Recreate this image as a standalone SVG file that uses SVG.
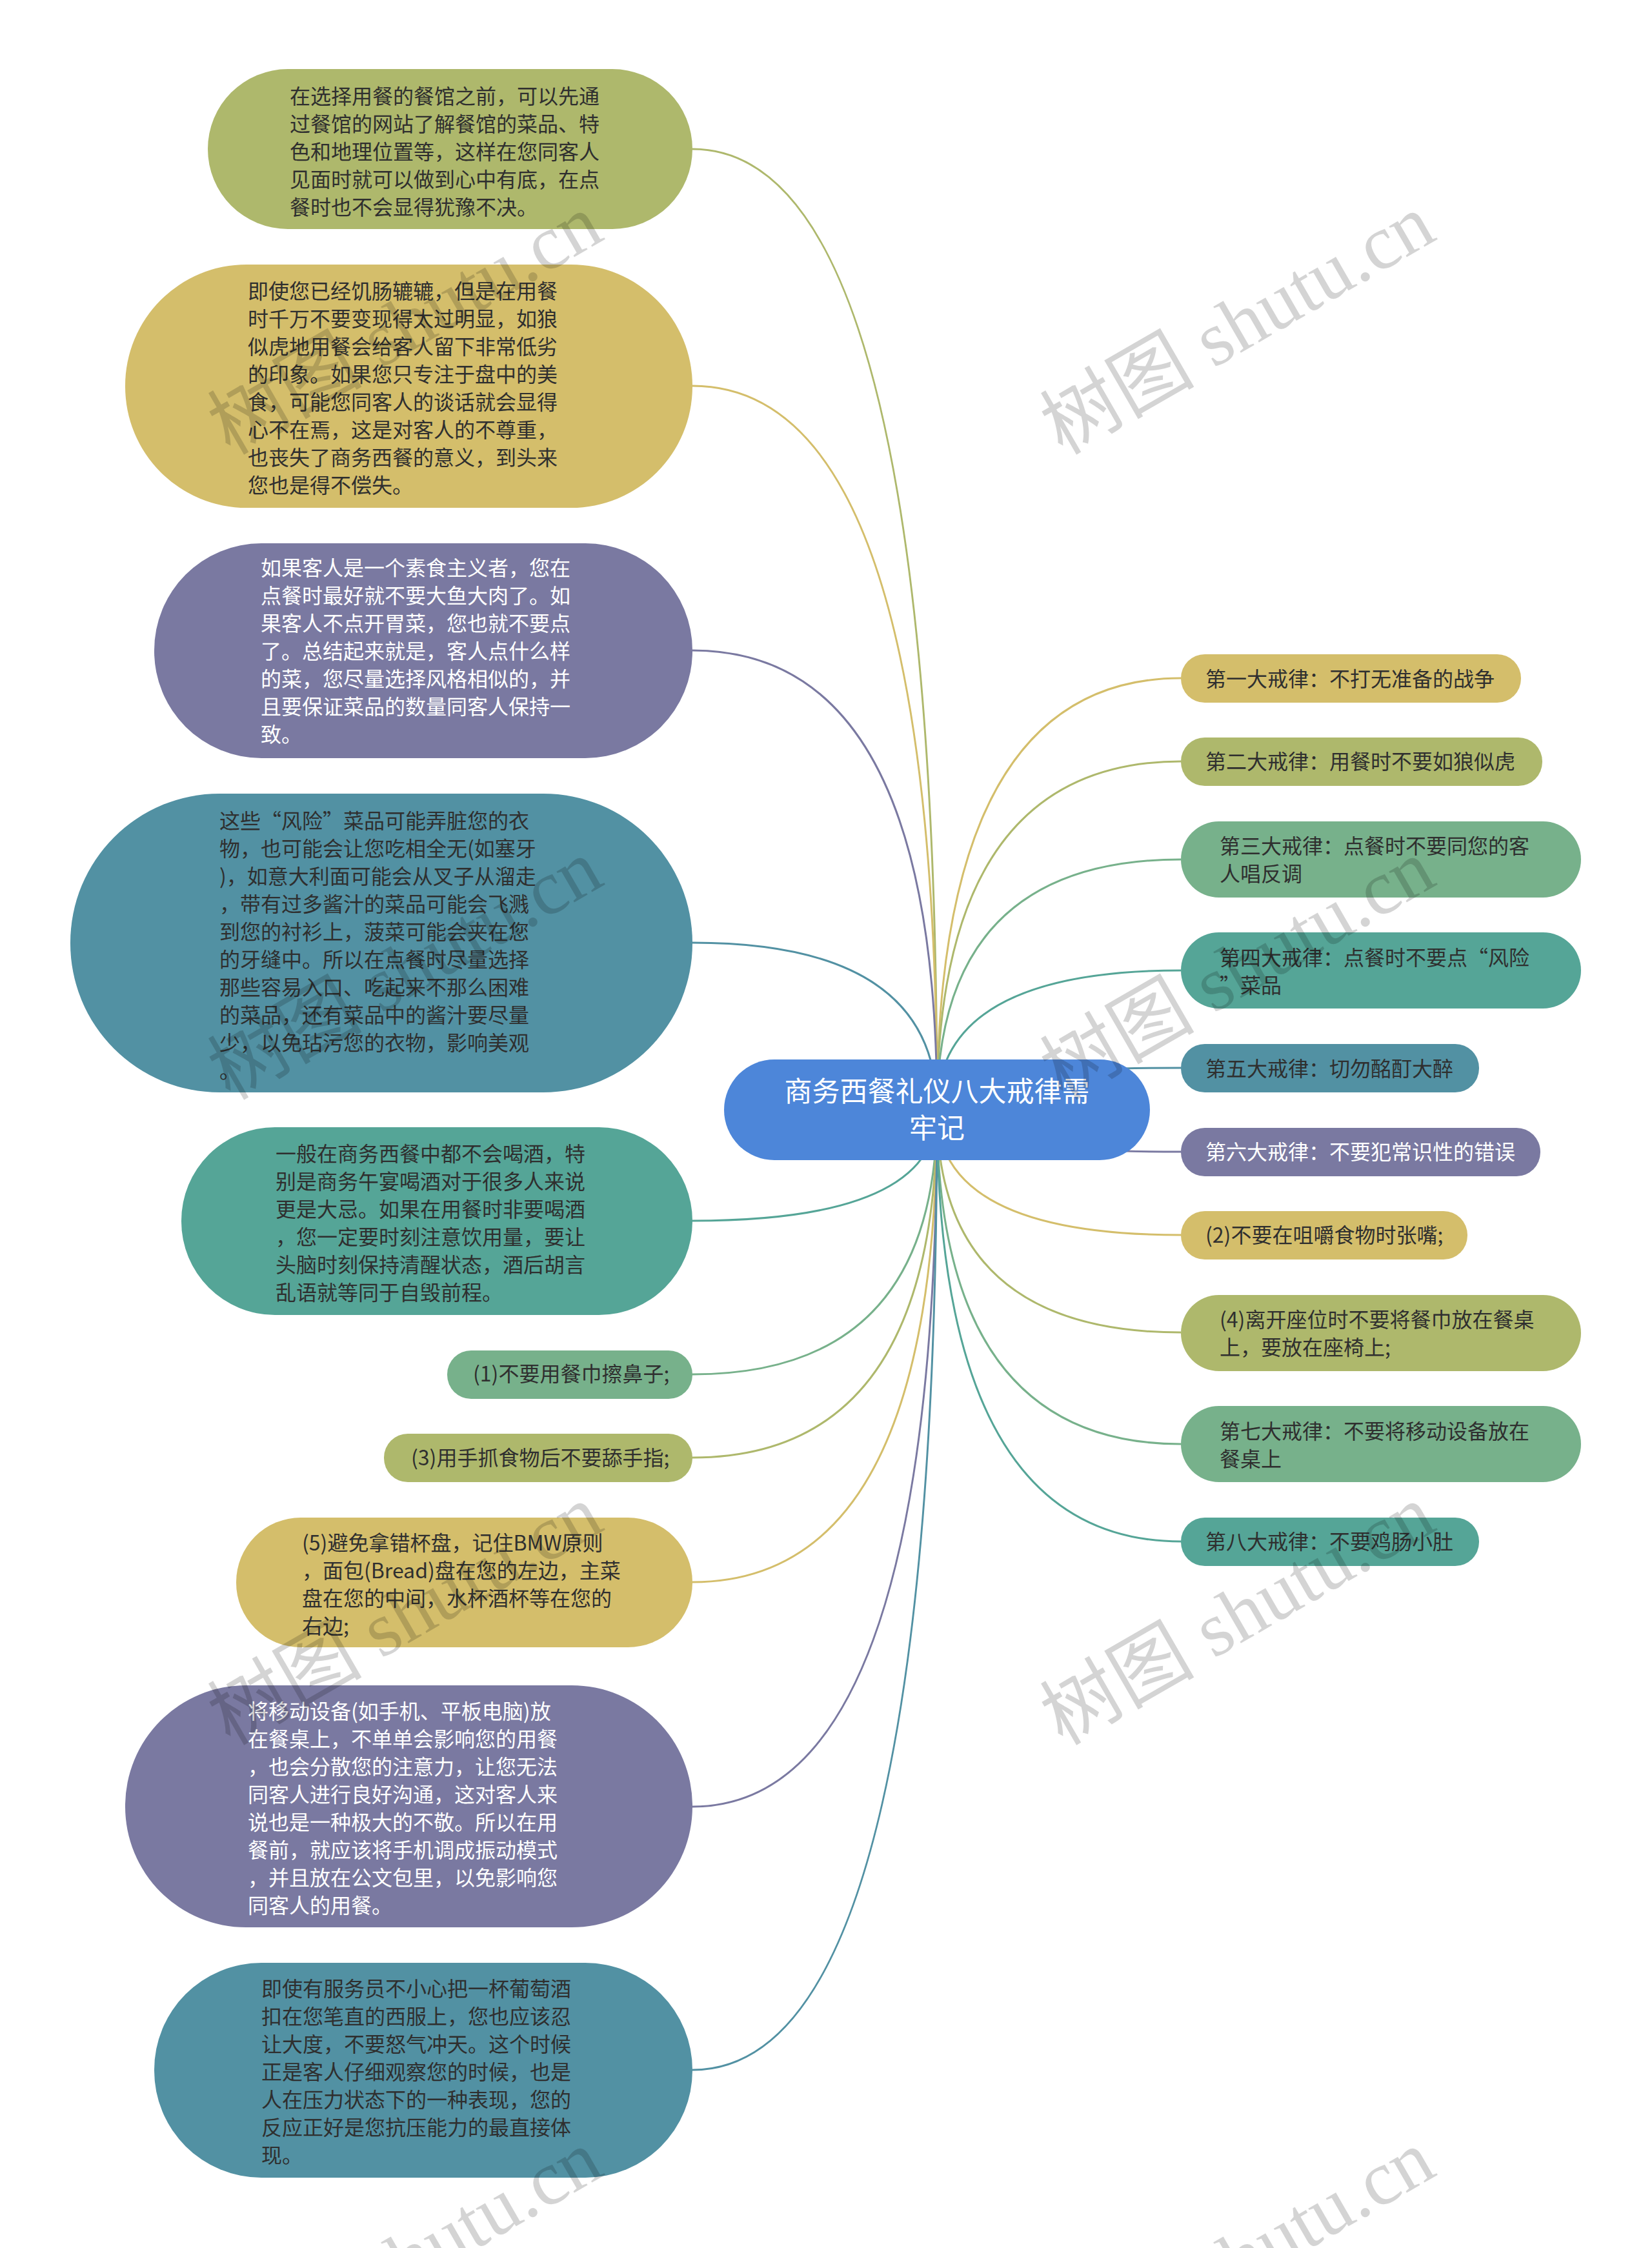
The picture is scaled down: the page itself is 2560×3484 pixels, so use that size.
<svg xmlns="http://www.w3.org/2000/svg" width="2560" height="3484" viewBox="0 0 2560 3484">
<style>
text{font-family:"Noto Sans CJK SC","Liberation Sans",sans-serif;font-size:32px;fill:#2f2f2f}
.w{fill:#ffffff}
.c{fill:none;stroke-width:3}
.ctr{font-size:43px;fill:#ffffff;text-anchor:middle}
.wm{font-family:"Liberation Serif","Noto Sans CJK SC",serif;font-size:120px;fill:#000;fill-opacity:0.17;text-anchor:middle}
.olive{fill:#AEB86C}.gold{fill:#D4BE6B}.purple{fill:#7A79A1}.tb{fill:#5291A3}.teal{fill:#55A597}.green{fill:#77B18B}
</style>
<rect x="0" y="0" width="2560" height="3484" fill="#ffffff"/>
<g id="connectors">
<path class="c" stroke="#AEB86C" d="M1452 1720 Q1452 231 1073 231"/>
<path class="c" stroke="#D4BE6B" d="M1452 1720 Q1452 598 1073 598"/>
<path class="c" stroke="#7A79A1" d="M1452 1720 Q1452 1008 1073 1008"/>
<path class="c" stroke="#5291A3" d="M1452 1720 Q1452 1461 1073 1461"/>
<path class="c" stroke="#55A597" d="M1452 1720 Q1452 1892 1073 1892"/>
<path class="c" stroke="#77B18B" d="M1452 1720 Q1452 2130 1073 2130"/>
<path class="c" stroke="#AEB86C" d="M1452 1720 Q1452 2259 1073 2259"/>
<path class="c" stroke="#D4BE6B" d="M1452 1720 Q1452 2452 1073 2452"/>
<path class="c" stroke="#7A79A1" d="M1452 1720 Q1452 2800 1073 2800"/>
<path class="c" stroke="#5291A3" d="M1452 1720 Q1452 3208 1073 3208"/>
<path class="c" stroke="#D4BE6B" d="M1452 1720 Q1452 1051 1830 1051"/>
<path class="c" stroke="#AEB86C" d="M1452 1720 Q1452 1180 1830 1180"/>
<path class="c" stroke="#77B18B" d="M1452 1720 Q1452 1332 1830 1332"/>
<path class="c" stroke="#55A597" d="M1452 1720 Q1452 1504 1830 1504"/>
<path class="c" stroke="#5291A3" d="M1452 1720 Q1452 1655 1830 1655"/>
<path class="c" stroke="#7A79A1" d="M1452 1720 Q1452 1785 1830 1785"/>
<path class="c" stroke="#D4BE6B" d="M1452 1720 Q1452 1914 1830 1914"/>
<path class="c" stroke="#AEB86C" d="M1452 1720 Q1452 2065 1830 2065"/>
<path class="c" stroke="#77B18B" d="M1452 1720 Q1452 2238 1830 2238"/>
<path class="c" stroke="#55A597" d="M1452 1720 Q1452 2389 1830 2389"/>
</g>
<g id="center">
<rect x="1122" y="1642" width="660" height="156" rx="78" fill="#4D86D9"/>
<text class="ctr"><tspan x="1452" y="1707">商务西餐礼仪八大戒律需</tspan><tspan x="1452" y="1764">牢记</tspan></text>
</g>
<g id="l1">
<rect class="olive" x="322" y="107" width="751" height="248" rx="124"/>
<text><tspan x="449" y="161">在选择用餐的餐馆之前，可以先通</tspan><tspan x="449" y="204">过餐馆的网站了解餐馆的菜品、特</tspan><tspan x="449" y="247">色和地理位置等，这样在您同客人</tspan><tspan x="449" y="290">见面时就可以做到心中有底，在点</tspan><tspan x="449" y="333">餐时也不会显得犹豫不决。</tspan></text>
</g>
<g id="l2">
<rect class="gold" x="194" y="410" width="879" height="377" rx="188"/>
<text><tspan x="384" y="463">即使您已经饥肠辘辘，但是在用餐</tspan><tspan x="384" y="506">时千万不要变现得太过明显，如狼</tspan><tspan x="384" y="549">似虎地用餐会给客人留下非常低劣</tspan><tspan x="384" y="592">的印象。如果您只专注于盘中的美</tspan><tspan x="384" y="635">食，可能您同客人的谈话就会显得</tspan><tspan x="384" y="678">心不在焉，这是对客人的不尊重，</tspan><tspan x="384" y="721">也丧失了商务西餐的意义，到头来</tspan><tspan x="384" y="764">您也是得不偿失。</tspan></text>
</g>
<g id="l3">
<rect class="purple" x="239" y="842" width="834" height="333" rx="166"/>
<text class="w"><tspan x="404" y="892">如果客人是一个素食主义者，您在</tspan><tspan x="404" y="935">点餐时最好就不要大鱼大肉了。如</tspan><tspan x="404" y="978">果客人不点开胃菜，您也就不要点</tspan><tspan x="404" y="1021">了。总结起来就是，客人点什么样</tspan><tspan x="404" y="1064">的菜，您尽量选择风格相似的，并</tspan><tspan x="404" y="1107">且要保证菜品的数量同客人保持一</tspan><tspan x="404" y="1150">致。</tspan></text>
</g>
<g id="l4">
<rect class="tb" x="109" y="1230" width="964" height="463" rx="231"/>
<text><tspan x="340" y="1284">这些“风险”菜品可能弄脏您的衣</tspan><tspan x="340" y="1327">物，也可能会让您吃相全无(如塞牙</tspan><tspan x="340" y="1370">)，如意大利面可能会从叉子从溜走</tspan><tspan x="340" y="1413">，带有过多酱汁的菜品可能会飞溅</tspan><tspan x="340" y="1456">到您的衬衫上，菠菜可能会夹在您</tspan><tspan x="340" y="1499">的牙缝中。所以在点餐时尽量选择</tspan><tspan x="340" y="1542">那些容易入口、吃起来不那么困难</tspan><tspan x="340" y="1585">的菜品，还有菜品中的酱汁要尽量</tspan><tspan x="340" y="1628">少，以免玷污您的衣物，影响美观</tspan><tspan x="340" y="1671">。</tspan></text>
</g>
<g id="l5">
<rect class="teal" x="281" y="1747" width="792" height="291" rx="145"/>
<text><tspan x="427" y="1800">一般在商务西餐中都不会喝酒，特</tspan><tspan x="427" y="1843">别是商务午宴喝酒对于很多人来说</tspan><tspan x="427" y="1886">更是大忌。如果在用餐时非要喝酒</tspan><tspan x="427" y="1929">，您一定要时刻注意饮用量，要让</tspan><tspan x="427" y="1972">头脑时刻保持清醒状态，酒后胡言</tspan><tspan x="427" y="2015">乱语就等同于自毁前程。</tspan></text>
</g>
<g id="l6">
<rect class="green" x="693" y="2093" width="380" height="75" rx="37"/>
<text x="733" y="2141">(1)不要用餐巾擦鼻子;</text>
</g>
<g id="l7">
<rect class="olive" x="595" y="2222" width="478" height="75" rx="37"/>
<text x="637" y="2271">(3)用手抓食物后不要舔手指;</text>
</g>
<g id="l8">
<rect class="gold" x="366" y="2352" width="707" height="201" rx="100"/>
<text><tspan x="468" y="2403">(5)避免拿错杯盘，记住BMW原则</tspan><tspan x="468" y="2446">，面包(Bread)盘在您的左边，主菜</tspan><tspan x="468" y="2489">盘在您的中间，水杯酒杯等在您的</tspan><tspan x="468" y="2532">右边;</tspan></text>
</g>
<g id="l9">
<rect class="purple" x="194" y="2612" width="879" height="375" rx="187"/>
<text class="w"><tspan x="384" y="2664">将移动设备(如手机、平板电脑)放</tspan><tspan x="384" y="2707">在餐桌上，不单单会影响您的用餐</tspan><tspan x="384" y="2750">，也会分散您的注意力，让您无法</tspan><tspan x="384" y="2793">同客人进行良好沟通，这对客人来</tspan><tspan x="384" y="2836">说也是一种极大的不敬。所以在用</tspan><tspan x="384" y="2879">餐前，就应该将手机调成振动模式</tspan><tspan x="384" y="2922">，并且放在公文包里，以免影响您</tspan><tspan x="384" y="2965">同客人的用餐。</tspan></text>
</g>
<g id="l10">
<rect class="tb" x="239" y="3042" width="834" height="333" rx="166"/>
<text><tspan x="405" y="3094">即使有服务员不小心把一杯葡萄酒</tspan><tspan x="405" y="3137">扣在您笔直的西服上，您也应该忍</tspan><tspan x="405" y="3180">让大度，不要怒气冲天。这个时候</tspan><tspan x="405" y="3223">正是客人仔细观察您的时候，也是</tspan><tspan x="405" y="3266">人在压力状态下的一种表现，您的</tspan><tspan x="405" y="3309">反应正好是您抗压能力的最直接体</tspan><tspan x="405" y="3352">现。</tspan></text>
</g>
<g id="r1">
<rect class="gold" x="1830" y="1014" width="527" height="75" rx="37"/>
<text x="1868" y="1064">第一大戒律：不打无准备的战争</text>
</g>
<g id="r2">
<rect class="olive" x="1830" y="1143" width="560" height="75" rx="37"/>
<text x="1868" y="1192">第二大戒律：用餐时不要如狼似虎</text>
</g>
<g id="r3">
<rect class="green" x="1830" y="1273" width="620" height="118" rx="59"/>
<text><tspan x="1890" y="1323">第三大戒律：点餐时不要同您的客</tspan><tspan x="1890" y="1366">人唱反调</tspan></text>
</g>
<g id="r4">
<rect class="teal" x="1830" y="1445" width="620" height="118" rx="59"/>
<text><tspan x="1890" y="1496">第四大戒律：点餐时不要点“风险</tspan><tspan x="1890" y="1539">”菜品</tspan></text>
</g>
<g id="r5">
<rect class="tb" x="1830" y="1618" width="462" height="75" rx="37"/>
<text x="1868" y="1668">第五大戒律：切勿酩酊大醉</text>
</g>
<g id="r6">
<rect class="purple" x="1830" y="1748" width="557" height="75" rx="37"/>
<text class="w" x="1868" y="1797">第六大戒律：不要犯常识性的错误</text>
</g>
<g id="r7">
<rect class="gold" x="1830" y="1877" width="444" height="75" rx="37"/>
<text x="1868" y="1926">(2)不要在咀嚼食物时张嘴;</text>
</g>
<g id="r8">
<rect class="olive" x="1830" y="2007" width="620" height="118" rx="59"/>
<text><tspan x="1890" y="2057">(4)离开座位时不要将餐巾放在餐桌</tspan><tspan x="1890" y="2100">上，要放在座椅上;</tspan></text>
</g>
<g id="r9">
<rect class="green" x="1830" y="2179" width="620" height="118" rx="59"/>
<text><tspan x="1890" y="2230">第七大戒律：不要将移动设备放在</tspan><tspan x="1890" y="2273">餐桌上</tspan></text>
</g>
<g id="r10">
<rect class="teal" x="1830" y="2352" width="462" height="75" rx="37"/>
<text x="1868" y="2401">第八大戒律：不要鸡肠小肚</text>
</g>
<g id="watermarks">
<text class="wm" x="648" y="538" transform="rotate(-30 648 538)">树图 shutu.cn</text>
<text class="wm" x="1938" y="538" transform="rotate(-30 1938 538)">树图 shutu.cn</text>
<text class="wm" x="648" y="1538" transform="rotate(-30 648 1538)">树图 shutu.cn</text>
<text class="wm" x="1938" y="1538" transform="rotate(-30 1938 1538)">树图 shutu.cn</text>
<text class="wm" x="648" y="2538" transform="rotate(-30 648 2538)">树图 shutu.cn</text>
<text class="wm" x="1938" y="2538" transform="rotate(-30 1938 2538)">树图 shutu.cn</text>
<text class="wm" x="648" y="3538" transform="rotate(-30 648 3538)">树图 shutu.cn</text>
<text class="wm" x="1938" y="3538" transform="rotate(-30 1938 3538)">树图 shutu.cn</text>
</g>
</svg>
